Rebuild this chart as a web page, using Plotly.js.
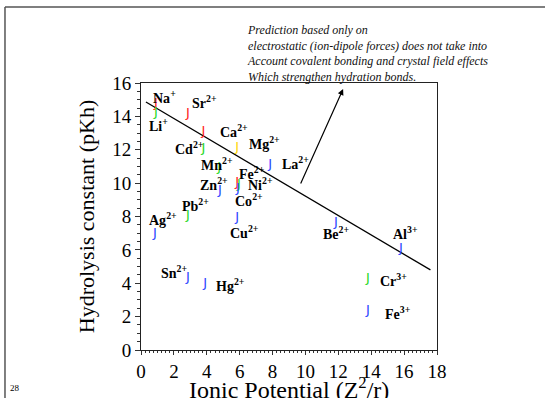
<!DOCTYPE html>
<html>
<head>
<meta charset="utf-8">
<script src="https://cdn.plot.ly/plotly-3.0.1.min.js"></script>
<style>html,body{margin:0;padding:0;background:#fff;}#chart{width:545px;height:398px;}</style>
</head>
<body>
<div id="chart"></div>
<script>
// ---- data ----
const ionSymbols = ['Na','Li','Sr','Ca','Cd','Mn','Zn','Mg','La','Fe','Ni','Co','Cu','Pb','Ag','Sn','Hg','Be','Al','Cr','Fe'];
const ionCharges = ['+','+','2+','2+','2+','2+','2+','2+','2+','2+','2+','2+','2+','2+','2+','2+','2+','2+','3+','3+','3+'];
const ionicPotential = [0.9, 0.9, 2.85, 3.8, 3.8, 4.75, 4.8, 5.85, 7.85, 5.85, 5.95, 5.9, 5.85, 2.85, 0.85, 2.85, 3.9, 11.85, 15.8, 13.8, 13.8];
const pKh = [14.75, 14.2, 14.15, 13.05, 12.05, 10.95, 9.55, 12.1, 11.1, 10.05, 9.9, 9.65, 7.9, 8.05, 6.95, 4.3, 4.0, 7.6, 6.05, 4.25, 2.35];
const ionGroup = ['red','green','red','red','green','green','blue','yellow','blue','red','green','blue','blue','green','blue','blue','blue','blue','blue','green','blue'];
const trendX = [0.3, 17.6];
const trendY = [14.86, 4.8];
const xTicks = [0, 2, 4, 6, 8, 10, 12, 14, 16, 18];
const yTicks = [0, 2, 4, 6, 8, 10, 12, 14, 16];
const xTitle = 'Ionic Potential (Z<sup>2</sup>/r)';
const yTitle = 'Hydrolysis constant (pKh)';
const noteLines = [
  'Prediction based only on',
  'electrostatic (ion-dipole forces) does not take into',
  'Account covalent bonding and crystal field effects',
  'Which strengthen hydration bonds.'
];

// ---- label placement (pixel offsets from each point) ----
const labelDx = [9, 3, 17, 31, -14, -2, -6, 27, 25, 15, 22, 11, 7, 8, 8, -14, 25, 0, 5, 26, 30];
const labelDy = [7, -12, 12, 1, 1, 3, 7, 5, 2, 9, 1, -11, -14, 11, 15, 6, -2, -10, 16, -1, -2];

const colorMap = {red:'#ff2020', green:'#1fd81f', blue:'#2a45ff', yellow:'#ffd500'};
const serif = 'Liberation Serif, Times New Roman, serif';

const traces = [
  {
    x: trendX, y: trendY, mode: 'lines', type: 'scatter',
    line: {color: '#000', width: 1.3}, hoverinfo: 'skip'
  },
  {
    x: ionicPotential, y: pKh, mode: 'text', type: 'scatter',
    text: ionicPotential.map(() => 'J'),
    textposition: 'middle center',
    textfont: {family: 'DejaVu Sans, sans-serif', size: 13, color: ionGroup.map(g => colorMap[g])}
  }
];

const annotations = ionSymbols.map((s, i) => ({
  x: ionicPotential[i], y: pKh[i], xref: 'x', yref: 'y',
  text: '<b>' + s + '<sup>' + ionCharges[i] + '</sup></b>',
  showarrow: false, xshift: labelDx[i], yshift: labelDy[i],
  font: {family: serif, size: 14, color: '#000'}
}));

annotations.push({
  x: 12.29, y: 15.64, ax: 9.67, ay: 9.89, xref: 'x', yref: 'y', axref: 'x', ayref: 'y',
  text: '', showarrow: true, arrowhead: 2, arrowsize: 1, arrowwidth: 1.2, arrowcolor: '#000'
});
annotations.push({
  xref: 'paper', yref: 'paper', x: 0.351, y: 1.112, xanchor: 'left', yanchor: 'middle', align: 'left',
  text: noteLines.map(l => '<i>' + l + '</i>').join('<br>'), showarrow: false,
  font: {family: serif, size: 12, color: '#111'}
});
annotations.push({
  xref: 'paper', yref: 'paper', x: 0.5, y: -0.143, xanchor: 'center', yanchor: 'middle',
  text: xTitle, showarrow: false, font: {family: serif, size: 24, color: '#000'}
});
annotations.push({
  xref: 'paper', yref: 'paper', x: -0.4257, y: -0.142, xanchor: 'center', yanchor: 'middle',
  text: '28', showarrow: false, font: {family: serif, size: 9, color: '#000'}
});

const axisCommon = {
  showline: true, linecolor: '#222', linewidth: 1, mirror: true,
  showgrid: false, zeroline: false, ticks: 'outside', tickcolor: '#333',
  tickfont: {family: serif, size: 19, color: '#000'}, automargin: false
};

const layout = {
  width: 545, height: 398,
  margin: {l: 141, r: 108, t: 83, b: 48},
  paper_bgcolor: '#fff', plot_bgcolor: '#fff',
  showlegend: false,
  xaxis: Object.assign({}, axisCommon, {
    range: [0, 18], tickvals: xTicks, ticklen: 4,
    minor: {dtick: 0.25, ticks: 'outside', ticklen: 2, tickcolor: '#333'}
  }),
  yaxis: Object.assign({}, axisCommon, {
    range: [0, 16], tickvals: yTicks, ticklen: 5,
    minor: {dtick: 0.5, ticks: 'outside', ticklen: 3, tickcolor: '#333'},
    title: {text: yTitle, font: {family: serif, size: 22, color: '#000'}, standoff: 11}
  }),
  annotations: annotations,
  shapes: [
    {type: 'line', xref: 'paper', yref: 'paper', x0: -0.4595, x1: -0.4595, y0: -0.2, y1: 1.2846, line: {color: '#555', width: 1.5}},
    {type: 'line', xref: 'paper', yref: 'paper', x0: -0.4595, x1: 1.4, y0: 1.2846, y1: 1.2846, line: {color: '#555', width: 1.5}}
  ]
};

Plotly.newPlot('chart', traces, layout, {displayModeBar: false, staticPlot: true});
</script>
</body>
</html>
